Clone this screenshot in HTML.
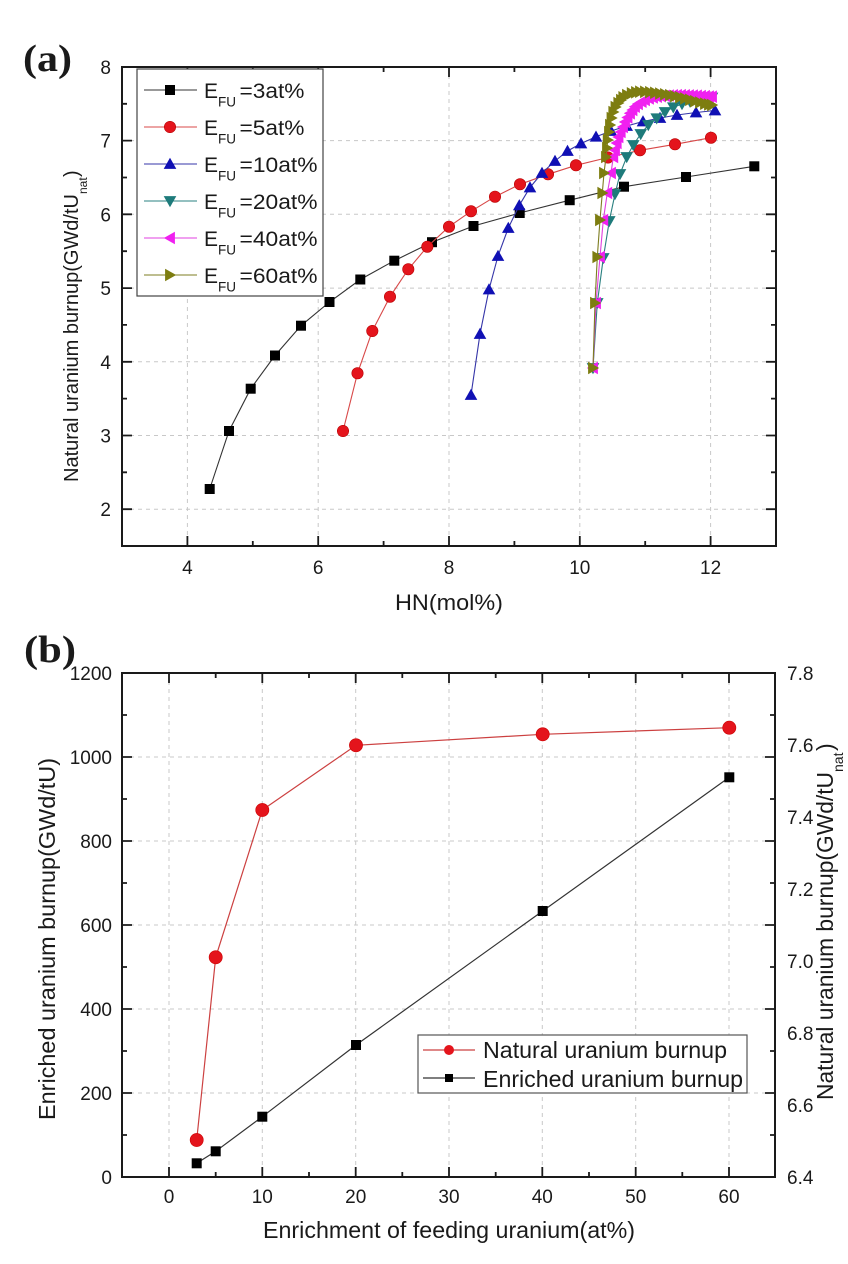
<!DOCTYPE html>
<html><head><meta charset="utf-8"><style>
html,body{margin:0;padding:0;background:#fff}
svg{display:block}
text{font-family:"Liberation Sans",Arial,sans-serif;fill:#1a1a1a}
</style></head><body>
<svg xmlns="http://www.w3.org/2000/svg" width="848" height="1264" viewBox="0 0 848 1264">
<defs>
<marker id="msq" markerUnits="userSpaceOnUse" markerWidth="14" markerHeight="14" refX="7" refY="7" overflow="visible"><rect x="2" y="2" width="10" height="10" fill="#000"/></marker>
<marker id="mci" markerUnits="userSpaceOnUse" markerWidth="14" markerHeight="14" refX="7" refY="7" overflow="visible"><circle cx="7" cy="7" r="5.7" fill="#e4141c" stroke="#b80000" stroke-width="0.6"/></marker>
<marker id="mup" markerUnits="userSpaceOnUse" markerWidth="14" markerHeight="14" refX="7" refY="7" overflow="visible"><polygon points="7,0.8 13.3,11.9 0.7,11.9" fill="#1010b4"/></marker>
<marker id="mdn" markerUnits="userSpaceOnUse" markerWidth="14" markerHeight="14" refX="7" refY="7" overflow="visible"><polygon points="0.7,2.1 13.3,2.1 7,13.2" fill="#1e7b7b"/></marker>
<marker id="mlt" markerUnits="userSpaceOnUse" markerWidth="14" markerHeight="14" refX="7" refY="7" overflow="visible"><polygon points="0.8,7 11.9,0.7 11.9,13.3" fill="#f020f0"/></marker>
<marker id="mrt" markerUnits="userSpaceOnUse" markerWidth="14" markerHeight="14" refX="7" refY="7" overflow="visible"><polygon points="13.2,7 2.1,0.7 2.1,13.3" fill="#7d7d10"/></marker>
<marker id="bci" markerUnits="userSpaceOnUse" markerWidth="16" markerHeight="16" refX="8" refY="8" overflow="visible"><circle cx="8" cy="8" r="6.6" fill="#e4141c" stroke="#c00" stroke-width="0.6"/></marker>
<marker id="bsq" markerUnits="userSpaceOnUse" markerWidth="16" markerHeight="16" refX="8" refY="8" overflow="visible"><rect x="3" y="3" width="10" height="10" fill="#000"/></marker>
</defs>

<!-- ===================== PANEL (a) ===================== -->
<text x="23" y="71" font-weight="bold" font-size="38" textLength="49" lengthAdjust="spacingAndGlyphs" style="font-family:'Liberation Serif',serif">(a)</text>

<path d="M187.4 67V546 M318.2 67V546 M449 67V546 M579.8 67V546 M710.6 67V546 M122 509.2H776 M122 435.5H776 M122 361.8H776 M122 288.1H776 M122 214.3H776 M122 140.6H776" stroke="#c8c8c8" stroke-width="1" stroke-dasharray="4,4" fill="none"/>

<path d="M187.4 546V536 M318.2 546V536 M449 546V536 M579.8 546V536 M710.6 546V536
M252.8 546V541 M383.6 546V541 M514.4 546V541 M645.2 546V541
M187.4 67V77 M318.2 67V77 M449 67V77 M579.8 67V77 M710.6 67V77
M252.8 67V72 M383.6 67V72 M514.4 67V72 M645.2 67V72
M122 509.2H132 M122 435.5H132 M122 361.8H132 M122 288.1H132 M122 214.3H132 M122 140.6H132
M122 472.3H127 M122 398.6H127 M122 324.9H127 M122 251.2H127 M122 177.5H127 M122 103.8H127
M776 509.2H766 M776 435.5H766 M776 361.8H766 M776 288.1H766 M776 214.3H766 M776 140.6H766
M776 472.3H771 M776 398.6H771 M776 324.9H771 M776 251.2H771 M776 177.5H771 M776 103.8H771" stroke="#1a1a1a" stroke-width="1.8" fill="none"/>

<rect x="122" y="67" width="654" height="479" fill="none" stroke="#1a1a1a" stroke-width="2"/>

<g font-size="19" text-anchor="end">
<text x="111" y="516.2">2</text><text x="111" y="442.5">3</text><text x="111" y="368.8">4</text><text x="111" y="295.1">5</text><text x="111" y="221.3">6</text><text x="111" y="147.6">7</text><text x="111" y="74">8</text>
</g>
<g font-size="19" text-anchor="middle">
<text x="187.4" y="574">4</text><text x="318.2" y="574">6</text><text x="449" y="574">8</text><text x="579.8" y="574">10</text><text x="710.6" y="574">12</text>
</g>

<text x="395" y="610" font-size="22" textLength="108" lengthAdjust="spacingAndGlyphs">HN(mol%)</text>
<text transform="translate(78,482) rotate(-90)" font-size="20" textLength="288" lengthAdjust="spacingAndGlyphs">Natural uranium burnup(GWd/tU</text>
<text transform="translate(87,194) rotate(-90)" font-size="12">nat</text>
<text transform="translate(78,177) rotate(-90)" font-size="20">)</text>

<polyline fill="none" stroke="#333" stroke-width="1.1" marker-start="url(#msq)" marker-mid="url(#msq)" marker-end="url(#msq)"
points="209.7,489 229,431 250.7,388.7 275,355.5 301,325.7 329.5,302 360.3,279.5 394.3,260.7 432,242.2 473.5,226 519.7,213 569.7,200.2 624,186.7 686,177 754.3,166.3"/>
<polyline fill="none" stroke="#d84848" stroke-width="1.1" marker-start="url(#mci)" marker-mid="url(#mci)" marker-end="url(#mci)"
points="343,431 357.5,373.3 372.3,331 390,296.7 408.3,269.3 427.3,246.7 449,226.7 471,211.3 495,196.7 520,184.3 548,174.3 576,165.3 608,157.5 640,150.3 675,144.3 711,137.7"/>
<polyline fill="none" stroke="#3535a8" stroke-width="1.1" marker-start="url(#mup)" marker-mid="url(#mup)" marker-end="url(#mup)"
points="471,395 480,334 489,289.5 498,256 508.3,228 519.3,205.3 530,187.5 542,173 555,161 567.5,151 581,143.5 596,136.7 611,131 626.7,126 643,121.5 660,118 677,115 696,112.5 715,110.5"/>
<polyline fill="none" stroke="#2a8080" stroke-width="1.1" marker-start="url(#mdn)" marker-mid="url(#mdn)" marker-end="url(#mdn)"
points="593,368 597.3,303 603.3,258 609.3,221 615,194 620,174 626.7,157 633.3,145 640.7,134 648.3,125 656.7,118.3 665,112 673.3,107.3 682,104 690,101.5 698,99.8 706,98.5 712,97.5"/>
<polyline fill="none" stroke="#e040e0" stroke-width="1.1" marker-start="url(#mlt)" marker-mid="url(#mlt)" marker-end="url(#mlt)"
points="593,368 596,303 600,257 603.3,220 607.3,193 611,173 613.3,157 615,150 616.7,143 618.5,137 620.7,132 623,127 625,122 627.5,117.5 630,113.3 632.5,110 635,106.7 638,104 641.7,101.7 645,100 649,98.5 653,97.5 657,96.7 661,96.2 665,95.8 669,95.5 673,95.3 677,95.2 681,95.2 685,95.3 689,95.4 693,95.5 697,95.7 701,96 705,96.2 709,96.5 712,96.7"/>
<polyline fill="none" stroke="#7d7d20" stroke-width="1.1" marker-start="url(#mrt)" marker-mid="url(#mrt)" marker-end="url(#mrt)"
points="593,368 595,303 597.3,257 600,220 602.3,193 604,173 606,157 607,148 607.7,140 609,132 610,125 611.5,118 613.3,112 615.5,107 618.3,103 621,100 623.3,97.3 627,95 631.7,93.3 636,92.3 640,91.7 645,91.8 650,92.2 655,92.8 660,93.5 665,94.3 670,95.2 675,96.2 680,97.3 685,98.5 690,99.8 695,101.2 700,102.5 705,103.7 709,104.5 712,105"/>

<rect x="137" y="69" width="186" height="227" fill="#fff" stroke="#444" stroke-width="1.2"/>
<path d="M144 90H197" stroke="#333" stroke-width="1.1"/>
<path d="M144 127H197" stroke="#d84848" stroke-width="1.1"/>
<path d="M144 164H197" stroke="#3535a8" stroke-width="1.1"/>
<path d="M144 201H197" stroke="#2a8080" stroke-width="1.1"/>
<path d="M144 238H197" stroke="#e040e0" stroke-width="1.1"/>
<path d="M144 275H197" stroke="#7d7d20" stroke-width="1.1"/>
<rect x="165" y="85" width="10" height="10" fill="#000"/>
<circle cx="170" cy="127" r="5.7" fill="#e4141c" stroke="#b80000" stroke-width="0.6"/>
<polygon points="170,157.8 176.3,168.9 163.7,168.9" fill="#1010b4"/>
<polygon points="163.7,196.1 176.3,196.1 170,207.2" fill="#1e7b7b"/>
<polygon points="163.8,238 174.9,231.7 174.9,244.3" fill="#f020f0"/>
<polygon points="176.2,275 165.1,268.7 165.1,281.3" fill="#7d7d10"/>
<g font-size="21">
<text x="204" y="98">E</text><text x="218" y="106.5" font-size="13.5">FU</text><text x="239.5" y="98" textLength="65" lengthAdjust="spacingAndGlyphs">=3at%</text>
<text x="204" y="135">E</text><text x="218" y="143.5" font-size="13.5">FU</text><text x="239.5" y="135" textLength="65" lengthAdjust="spacingAndGlyphs">=5at%</text>
<text x="204" y="172">E</text><text x="218" y="180.5" font-size="13.5">FU</text><text x="239.5" y="172" textLength="78" lengthAdjust="spacingAndGlyphs">=10at%</text>
<text x="204" y="209">E</text><text x="218" y="217.5" font-size="13.5">FU</text><text x="239.5" y="209" textLength="78" lengthAdjust="spacingAndGlyphs">=20at%</text>
<text x="204" y="246">E</text><text x="218" y="254.5" font-size="13.5">FU</text><text x="239.5" y="246" textLength="78" lengthAdjust="spacingAndGlyphs">=40at%</text>
<text x="204" y="283">E</text><text x="218" y="291.5" font-size="13.5">FU</text><text x="239.5" y="283" textLength="78" lengthAdjust="spacingAndGlyphs">=60at%</text>
</g>

<!-- ===================== PANEL (b) ===================== -->
<text x="24" y="662" font-weight="bold" font-size="38" textLength="52" lengthAdjust="spacingAndGlyphs" style="font-family:'Liberation Serif',serif">(b)</text>

<path d="M169 673V1177 M262.3 673V1177 M355.7 673V1177 M449 673V1177 M542.3 673V1177 M635.7 673V1177 M729 673V1177 M122 1093H775 M122 1009H775 M122 925H775 M122 841H775 M122 757H775" stroke="#c8c8c8" stroke-width="1" stroke-dasharray="4,4" fill="none"/>

<path d="M169 1177V1167 M262.3 1177V1167 M355.7 1177V1167 M449 1177V1167 M542.3 1177V1167 M635.7 1177V1167 M729 1177V1167
M215.7 1177V1172 M309 1177V1172 M402.3 1177V1172 M495.7 1177V1172 M589 1177V1172 M682.3 1177V1172
M169 673V683 M262.3 673V683 M355.7 673V683 M449 673V683 M542.3 673V683 M635.7 673V683 M729 673V683
M215.7 673V678 M309 673V678 M402.3 673V678 M495.7 673V678 M589 673V678 M682.3 673V678
M122 1093H132 M122 1009H132 M122 925H132 M122 841H132 M122 757H132
M122 1135H127 M122 1051H127 M122 967H127 M122 883H127 M122 799H127 M122 715H127
M775 1093H765 M775 1009H765 M775 925H765 M775 841H765 M775 757H765
M775 1135H770 M775 1051H770 M775 967H770 M775 883H770 M775 799H770 M775 715H770" stroke="#1a1a1a" stroke-width="1.8" fill="none"/>

<rect x="122" y="673" width="653" height="504" fill="none" stroke="#1a1a1a" stroke-width="2"/>

<g font-size="19" text-anchor="end">
<text x="112" y="1184">0</text><text x="112" y="1100">200</text><text x="112" y="1016">400</text><text x="112" y="932">600</text><text x="112" y="848">800</text><text x="112" y="764">1000</text><text x="112" y="680">1200</text>
</g>
<g font-size="19">
<text x="787" y="1184">6.4</text><text x="787" y="1112">6.6</text><text x="787" y="1040">6.8</text><text x="787" y="968">7.0</text><text x="787" y="896">7.2</text><text x="787" y="824">7.4</text><text x="787" y="752">7.6</text><text x="787" y="680">7.8</text>
</g>
<g font-size="19" text-anchor="middle">
<text x="169" y="1203">0</text><text x="262.3" y="1203">10</text><text x="355.7" y="1203">20</text><text x="449" y="1203">30</text><text x="542.3" y="1203">40</text><text x="635.7" y="1203">50</text><text x="729" y="1203">60</text>
</g>

<text x="263" y="1238" font-size="23" textLength="372" lengthAdjust="spacingAndGlyphs">Enrichment of feeding uranium(at%)</text>
<text transform="translate(55,1120) rotate(-90)" font-size="23" textLength="362" lengthAdjust="spacingAndGlyphs">Enriched uranium burnup(GWd/tU)</text>
<text transform="translate(833,1100) rotate(-90)" font-size="23" textLength="328" lengthAdjust="spacingAndGlyphs">Natural uranium burnup(GWd/tU</text>
<text transform="translate(843,772) rotate(-90)" font-size="14">nat</text>
<text transform="translate(833,751) rotate(-90)" font-size="23">)</text>

<polyline fill="none" stroke="#333" stroke-width="1.2" marker-start="url(#bsq)" marker-mid="url(#bsq)" marker-end="url(#bsq)"
points="196.7,1163.3 215.7,1151.3 262.3,1116.7 356,1045 542.7,911 729.3,777.3"/>
<polyline fill="none" stroke="#cc4040" stroke-width="1.2" marker-start="url(#bci)" marker-mid="url(#bci)" marker-end="url(#bci)"
points="196.7,1140 215.7,957.3 262.3,810 356,745.3 542.7,734.3 729.3,727.7"/>

<rect x="418" y="1035" width="329" height="58" fill="#fff" stroke="#555" stroke-width="1.2"/>
<path d="M423 1050H475" stroke="#cc4040" stroke-width="1.2"/>
<path d="M423 1078H475" stroke="#333" stroke-width="1.2"/>
<circle cx="449" cy="1050" r="5" fill="#e4141c"/>
<rect x="445" y="1074" width="8" height="8" fill="#000"/>
<text x="483" y="1058" font-size="23" textLength="244" lengthAdjust="spacingAndGlyphs">Natural uranium burnup</text>
<text x="483" y="1087" font-size="23" textLength="260" lengthAdjust="spacingAndGlyphs">Enriched uranium burnup</text>
</svg>
</body></html>
